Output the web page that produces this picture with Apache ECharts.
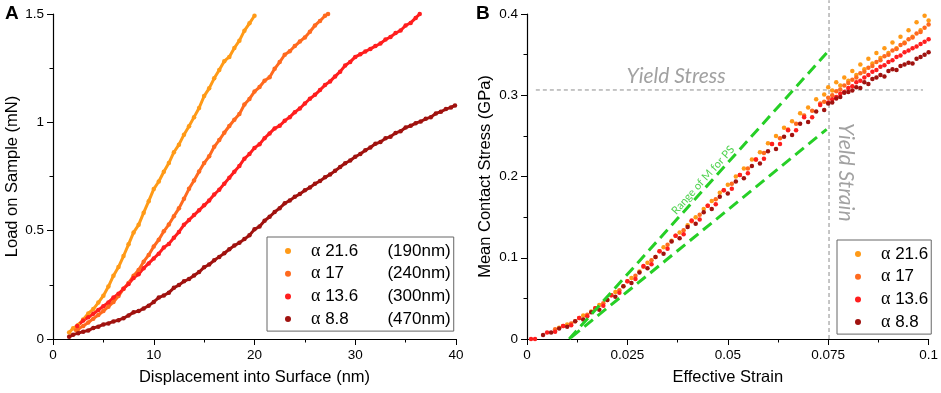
<!DOCTYPE html>
<html>
<head>
<meta charset="utf-8">
<script src="https://cdn.jsdelivr.net/npm/echarts@6/dist/echarts.min.js"></script>
<style>
    html, body { margin: 0; padding: 0; background: #fff; }
    #chart { width: 941px; height: 393px; }
</style>
</head>
<body>
<div id="chart"></div>
<script>
const seriesNames = ['α 21.6', 'α 17', 'α 13.6', 'α 8.8'];
const alphaValues = ['21.6', '17', '13.6', '8.8'];
const thicknessLabels = ['(190nm)', '(240nm)', '(300nm)', '(470nm)'];
const colors = ['#FF9A17', '#FF6A1E', '#FF1E1E', '#A0120F'];

// panel A: displacement (nm) vs load (mN)
const loadA216 = [[1.6,0.03],[2,0.05],[2.5,0.065],[3,0.09],[3.5,0.118],[4,0.138],[4.5,0.168],[5,0.2],[5.5,0.242],[6,0.292],
    [6.5,0.332],[7,0.383],[7.5,0.437],[8,0.492],[8.5,0.527],[9,0.583],[9.5,0.636],[10,0.692],[10.5,0.727],[11,0.772],
    [11.5,0.812],[12,0.862],[12.5,0.897],[13,0.943],[13.5,0.982],[14,1.024],[14.5,1.066],[15,1.121],[15.5,1.157],[16,1.203],
    [16.5,1.242],[17,1.282],[17.5,1.302],[18,1.343],[18.5,1.377],[19,1.423],[19.5,1.457],[20,1.492]];
const loadA17 = [[2.3,0.04],[2.5,0.046],[3,0.06],[3.5,0.076],[4,0.094],[4.5,0.111],[5,0.129],[5.5,0.149],[6,0.171],[6.5,0.198],
    [7,0.232],[7.5,0.258],[8,0.292],[8.5,0.318],[9,0.357],[9.5,0.388],[10,0.427],[10.5,0.458],[11,0.497],[11.5,0.528],
    [12,0.567],[12.5,0.603],[13,0.647],[13.5,0.693],[14,0.732],[14.5,0.773],[15,0.812],[15.5,0.843],[16,0.887],[16.5,0.918],
    [17,0.952],[17.5,0.983],[18,1.012],[18.5,1.038],[19,1.082],[19.5,1.108],[20,1.142],[20.5,1.163],[21,1.192],[21.5,1.208],
    [22,1.247],[22.5,1.278],[23,1.312],[23.5,1.328],[24,1.352],[24.5,1.373],[25,1.392],[25.5,1.418],[26,1.447],[26.5,1.468],
    [27,1.492],[27.3,1.5]];
const loadA136 = [[2.4,0.06],[3,0.085],[3.5,0.1],[4,0.116],[4.5,0.134],[5,0.151],[5.5,0.169],[6,0.191],[6.5,0.209],[7,0.232],
    [7.5,0.254],[8,0.282],[8.5,0.299],[9,0.327],[9.5,0.349],[10,0.372],[10.5,0.394],[11,0.422],[11.5,0.439],[12,0.467],
    [12.5,0.494],[13,0.527],[13.5,0.549],[14,0.572],[14.5,0.594],[15,0.617],[15.5,0.639],[16,0.667],[16.5,0.689],[17,0.717],
    [17.5,0.744],[18,0.772],[18.5,0.799],[19,0.832],[19.5,0.854],[20,0.882],[20.5,0.899],[21,0.927],[21.5,0.949],[22,0.972],
    [22.5,0.984],[23,1.007],[23.5,1.024],[24,1.047],[24.5,1.064],[25,1.087],[25.5,1.109],[26,1.127],[26.5,1.149],[27,1.172],
    [27.5,1.189],[28,1.212],[28.5,1.234],[29,1.262],[29.5,1.279],[30,1.302],[30.5,1.314],[31,1.327],[31.5,1.339],[32,1.352],
    [32.5,1.364],[33,1.382],[33.5,1.394],[34,1.412],[34.5,1.424],[35,1.447],[35.5,1.459],[36,1.482],[36.4,1.5]];
const loadA88 = [[1.6,0.01],[2,0.02],[2.5,0.027],[3,0.034],[3.5,0.039],[4,0.051],[4.5,0.057],[5,0.067],[5.5,0.072],[6,0.081],
    [6.5,0.087],[7,0.096],[7.5,0.109],[8,0.123],[8.5,0.129],[9,0.141],[9.5,0.154],[10,0.171],[10.5,0.191],[11,0.201],
    [11.5,0.214],[12,0.236],[12.5,0.249],[13,0.266],[13.5,0.277],[14,0.293],[14.5,0.309],[15,0.331],[15.5,0.344],[16,0.363],
    [16.5,0.379],[17,0.396],[17.5,0.414],[18,0.431],[18.5,0.444],[19,0.461],[19.5,0.479],[20,0.506],[20.5,0.519],[21,0.546],
    [21.5,0.564],[22,0.586],[22.5,0.604],[23,0.626],[23.5,0.639],[24,0.656],[24.5,0.669],[25,0.686],[25.5,0.699],[26,0.716],
    [26.5,0.729],[27,0.746],[27.5,0.759],[28,0.776],[28.5,0.794],[29,0.811],[29.5,0.824],[30,0.841],[30.5,0.854],[31,0.871],
    [31.5,0.884],[32,0.901],[32.5,0.909],[33,0.926],[33.5,0.934],[34,0.951],[34.5,0.959],[35,0.976],[35.5,0.984],[36,0.996],
    [36.5,1.004],[37,1.016],[37.5,1.024],[38,1.041],[38.5,1.049],[39,1.061],[39.5,1.069],[39.9,1.078]];

// panel B: effective strain vs mean contact stress (GPa)
const stressB216 = [[0.008,0.014],[0.01,0.018],[0.012,0.022],[0.014,0.029],[0.016,0.034],[0.018,0.042],[0.02,0.048],[0.022,0.058],
    [0.024,0.065],[0.026,0.075],[0.028,0.083],[0.03,0.094],[0.032,0.101],[0.034,0.113],[0.036,0.121],[0.038,0.131],[0.04,0.14],
    [0.042,0.15],[0.044,0.16],[0.046,0.17],[0.048,0.18],[0.05,0.19],[0.052,0.2],[0.054,0.21],[0.056,0.221],[0.058,0.23],
    [0.06,0.241],[0.062,0.25],[0.064,0.26],[0.066,0.268],[0.068,0.278],[0.07,0.285],[0.072,0.295],[0.074,0.301],
    [0.075,0.31],[0.076,0.306],[0.077,0.316],[0.078,0.312],[0.079,0.322],[0.08,0.318],[0.081,0.33],[0.082,0.325],[0.083,0.338],
    [0.084,0.332],[0.085,0.345],[0.086,0.339],[0.087,0.352],[0.088,0.346],[0.089,0.358],[0.09,0.352],[0.091,0.365],[0.092,0.358],
    [0.093,0.372],[0.094,0.365],[0.095,0.38],[0.096,0.372],[0.097,0.39],[0.098,0.38],[0.099,0.398],[0.1,0.392]];
const stressB17 = [[0.007,0.012],[0.009,0.016],[0.011,0.019],[0.013,0.026],[0.015,0.03],[0.017,0.038],[0.019,0.044],[0.021,0.054],
    [0.023,0.06],[0.025,0.071],[0.027,0.078],[0.029,0.089],[0.031,0.097],[0.033,0.108],[0.035,0.116],[0.037,0.127],[0.039,0.134],
    [0.041,0.145],[0.043,0.153],[0.045,0.164],[0.047,0.172],[0.049,0.183],[0.051,0.191],[0.053,0.202],[0.055,0.21],[0.057,0.221],
    [0.059,0.229],[0.061,0.24],[0.063,0.247],[0.065,0.258],[0.067,0.265],[0.069,0.275],[0.071,0.281],[0.073,0.29],[0.074,0.292],
    [0.075,0.297],[0.076,0.3],[0.077,0.305],[0.078,0.307],[0.079,0.312],[0.08,0.315],[0.081,0.319],[0.082,0.322],[0.083,0.327],
    [0.084,0.329],[0.085,0.334],[0.086,0.336],[0.087,0.341],[0.088,0.343],[0.089,0.348],[0.09,0.35],[0.091,0.355],[0.092,0.357],
    [0.093,0.362],[0.094,0.364],[0.095,0.369],[0.096,0.371],[0.097,0.376],[0.098,0.378],[0.099,0.383],[0.1,0.387]];
const stressB136 = [[0.001,0],[0.002,0],[0.005,0.008],[0.007,0.009],[0.009,0.016],[0.011,0.017],[0.013,0.026],[0.015,0.028],
    [0.017,0.038],[0.019,0.041],[0.021,0.054],[0.023,0.057],[0.025,0.071],[0.027,0.074],[0.029,0.09],[0.031,0.092],[0.033,0.108],
    [0.035,0.111],[0.037,0.127],[0.039,0.129],[0.041,0.146],[0.043,0.147],[0.045,0.164],[0.047,0.166],[0.049,0.183],[0.051,0.185],
    [0.053,0.202],[0.055,0.204],[0.057,0.221],[0.059,0.222],[0.061,0.24],[0.063,0.24],[0.065,0.257],[0.067,0.257],[0.069,0.273],
    [0.071,0.273],[0.073,0.288],[0.075,0.291],[0.076,0.295],[0.077,0.298],[0.078,0.302],[0.079,0.304],[0.08,0.309],[0.081,0.311],
    [0.082,0.316],[0.083,0.318],[0.084,0.322],[0.085,0.325],[0.086,0.329],[0.087,0.331],[0.088,0.335],[0.089,0.337],[0.09,0.341],
    [0.091,0.343],[0.092,0.347],[0.093,0.349],[0.094,0.353],[0.095,0.355],[0.096,0.358],[0.097,0.36],[0.098,0.363],[0.099,0.366],
    [0.1,0.369]];
const stressB88 = [[0.004,0.005],[0.006,0.008],[0.008,0.013],[0.01,0.015],[0.012,0.022],[0.014,0.024],[0.016,0.033],[0.018,0.036],
    [0.02,0.048],[0.022,0.052],[0.024,0.065],[0.026,0.069],[0.028,0.082],[0.03,0.087],[0.032,0.101],[0.034,0.105],[0.036,0.12],
    [0.038,0.124],[0.04,0.138],[0.042,0.142],[0.044,0.156],[0.046,0.16],[0.048,0.175],[0.05,0.179],[0.052,0.194],[0.054,0.198],
    [0.056,0.213],[0.058,0.216],[0.06,0.231],[0.062,0.234],[0.064,0.249],[0.066,0.251],[0.068,0.265],[0.07,0.267],[0.072,0.28],
    [0.074,0.282],[0.075,0.29],[0.076,0.291],[0.077,0.296],[0.078,0.298],[0.079,0.303],[0.08,0.304],[0.081,0.306],[0.082,0.31],
    [0.083,0.309],[0.084,0.316],[0.085,0.314],[0.086,0.32],[0.087,0.322],[0.088,0.325],[0.089,0.323],[0.09,0.33],[0.091,0.332],
    [0.092,0.331],[0.093,0.336],[0.094,0.338],[0.095,0.34],[0.096,0.339],[0.097,0.345],[0.098,0.347],[0.099,0.35],[0.1,0.353]];

// reference lines in panel B
const modulusUpper = [[0.0105, 0], [0.0746, 0.352]];
const modulusLower = [[0.011, 0.002], [0.0746, 0.258]];
const yieldStress = 0.3065;
const yieldStrain = 0.0752;

const loadData = [loadA216, loadA17, loadA136, loadA88];
const stressData = [stressB216, stressB17, stressB136, stressB88];

const FONT = 'Liberation Sans';

function makeAxis(gridIndex, min, max, interval, name, nameGap) {
    return {
        type: 'value', gridIndex, min, max, interval, name,
        nameLocation: 'middle', nameGap,
        nameTextStyle: {fontSize: 16.5, fontFamily: FONT, color: '#000'},
        axisLine: {show: true, onZero: false, lineStyle: {color: '#000', width: 1.2}},
        axisTick: {show: true, inside: false, length: 6, lineStyle: {color: '#000'}},
        minorTick: {show: true, splitNumber: 2, length: 3.5, lineStyle: {color: '#000'}},
        splitLine: {show: false},
        axisLabel: {fontSize: 13.5, fontFamily: FONT, color: '#000', margin: 9}
    };
}

function makeLegend(left, top, withThickness) {
    return {
        data: seriesNames, orient: 'vertical', left, top,
        padding: [4, 3, 2, 18], itemGap: 2.7, itemWidth: 6, itemHeight: 6,
        icon: 'circle', borderColor: '#666', borderWidth: 1, selectedMode: false,
        formatter: function (name) {
            const i = seriesNames.indexOf(name);
            let s = '{g|α}{a| ' + alphaValues[i] + '}';
            if (withThickness) s += '{b|' + thicknessLabels[i] + '}';
            return s;
        },
        textStyle: {
            fontSize: 17, fontFamily: FONT, color: '#000', lineHeight: 20,
            rich: {
                g: {fontFamily: 'Liberation Serif', fontSize: 18, lineHeight: 20, color: '#000', padding: [0, 0, 0, 15]},
                a: {fontSize: 17, fontFamily: FONT, lineHeight: 20, width: withThickness ? 67 : undefined, color: '#000'},
                b: {fontSize: 17, fontFamily: FONT, lineHeight: 20, color: '#000'}
            }
        }
    };
}

const series = [];
loadData.forEach((data, i) => {
    series.push({
        name: seriesNames[i], type: 'line', xAxisIndex: 0, yAxisIndex: 0, data,
        symbol: 'circle', symbolSize: 4.5, showSymbol: true,
        lineStyle: {color: colors[i], width: 3}, itemStyle: {color: colors[i]}
    });
});
stressData.forEach((data, i) => {
    series.push({
        name: seriesNames[i], type: 'scatter', xAxisIndex: 1, yAxisIndex: 1, data,
        symbolSize: 4.5, itemStyle: {color: colors[i], opacity: 1}
    });
});

const dashGray = {color: '#8c8c8c', width: 1, type: [4, 3]};
series.push({
    type: 'line', xAxisIndex: 1, yAxisIndex: 1, symbol: 'none', silent: true, clip: false, z: 1,
    data: [[0.0022, yieldStress], [0.0986, yieldStress]], lineStyle: dashGray
});
series.push({
    type: 'line', xAxisIndex: 1, yAxisIndex: 1, symbol: 'none', silent: true, clip: false, z: 1,
    data: [[yieldStrain, 0], [yieldStrain, 0.417]], lineStyle: dashGray
});
[modulusUpper, modulusLower].forEach(d => {
    series.push({
        type: 'line', xAxisIndex: 1, yAxisIndex: 1, symbol: 'none', silent: true, z: 5,
        data: d, lineStyle: {color: '#26CF26', width: 3, type: [11, 6]}
    });
});

function annotation(text, point, rotate, style) {
    return {
        type: 'scatter', xAxisIndex: 1, yAxisIndex: 1, symbolSize: 0, silent: true, z: 6,
        data: [{value: point}],
        label: Object.assign({show: true, position: 'inside', formatter: text, rotate,
            align: 'center', verticalAlign: 'middle'}, style)
    };
}
const grayItalic = {fontFamily: 'Lato', fontStyle: 'italic', fontSize: 21, color: '#8a8a8a'};
series.push(annotation('Yield Stress', [0.0371, 0.3236], 0, grayItalic));
series.push(annotation('Yield Strain', [0.0793, 0.2054], -90, grayItalic));
series.push(annotation('Range of M for PS', [0.0438, 0.1955], 48,
    {fontFamily: 'Lato', fontSize: 11, color: '#22C722'}));

const option = {
    animation: false,
    backgroundColor: '#fff',
    grid: [
        {left: 53, right: 485, top: 14, bottom: 54},
        {left: 527, right: 10, top: 14, bottom: 54}
    ],
    xAxis: [
        makeAxis(0, 0, 40, 10, 'Displacement into Surface (nm)', 30),
        makeAxis(1, 0, 0.1, 0.025, 'Effective Strain', 30)
    ],
    yAxis: [
        makeAxis(0, 0, 1.5, 0.5, 'Load on Sample (mN)', 31),
        makeAxis(1, 0, 0.4, 0.1, 'Mean Contact Stress (GPa)', 33)
    ],
    legend: [makeLegend(267, 237, true), makeLegend(837, 240, false)],
    graphic: [
        {type: 'text', left: 5, top: 4, style: {text: 'A', fontSize: 19, fontWeight: 'bold', fontFamily: FONT, fill: '#000'}},
        {type: 'text', left: 476, top: 4, style: {text: 'B', fontSize: 19, fontWeight: 'bold', fontFamily: FONT, fill: '#000'}}
    ],
    series
};

const chart = echarts.init(document.getElementById('chart'));
chart.setOption(option);
</script>
</body>
</html>
